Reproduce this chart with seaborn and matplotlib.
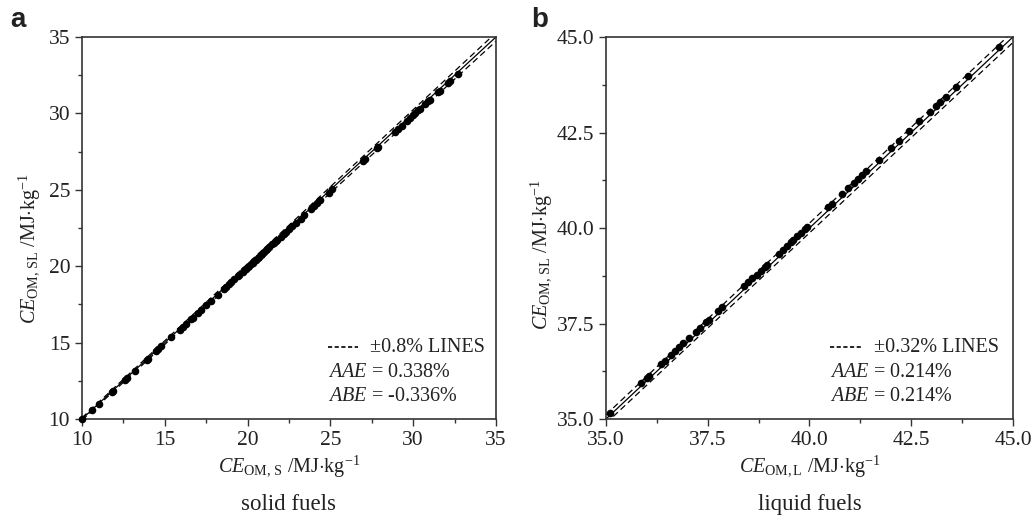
import matplotlib
matplotlib.use("Agg")
import matplotlib.pyplot as plt
import seaborn as sns
import numpy as np
import pandas as pd
from matplotlib.ticker import MultipleLocator, FormatStrFormatter

# ---------------- data ----------------
solid_x = [10.0, 10.6, 11.0, 11.8, 11.9, 12.6, 12.7, 13.2, 13.9, 14.0, 14.5, 14.6, 14.8,
           15.4, 15.9, 16.1, 16.3, 16.6, 16.7, 17.0, 17.2, 17.5, 17.8, 18.2, 18.6, 18.7,
           18.9, 19.0, 19.2, 19.4, 19.5, 19.7, 19.8, 19.9, 20.0, 20.1, 20.2, 20.3, 20.4,
           20.5, 20.6, 20.7, 20.8, 20.9, 21.0, 21.1, 21.2, 21.3, 21.5, 21.6, 21.7, 21.8,
           22.0, 22.2, 22.3, 22.5, 22.7, 22.9, 23.2, 23.4, 23.8, 24.0, 24.2, 24.4, 24.9,
           25.1, 27.0, 27.1, 27.8, 27.9, 28.9, 29.1, 29.3, 29.6, 29.8, 30.0, 30.1, 30.3,
           30.4, 30.7, 30.9, 31.0, 31.5, 31.6, 32.1, 32.2, 32.7]
solid_y = [9.97, 10.57, 10.96, 11.76, 11.86, 12.56, 12.66, 13.16, 13.85, 13.95, 14.45, 14.55, 14.75,
           15.35, 15.85, 16.05, 16.25, 16.54, 16.64, 16.94, 17.14, 17.44, 17.74, 18.14, 18.54, 18.64,
           18.84, 18.94, 19.14, 19.33, 19.43, 19.63, 19.73, 19.83, 19.93, 20.03, 20.13, 20.23, 20.33,
           20.43, 20.53, 20.63, 20.73, 20.83, 20.93, 21.03, 21.13, 21.23, 21.43, 21.53, 21.63, 21.73,
           21.93, 22.12, 22.22, 22.42, 22.62, 22.82, 23.12, 23.32, 23.72, 23.92, 24.12, 24.32, 24.82,
           25.02, 26.91, 27.01, 27.71, 27.81, 28.80, 29.00, 29.20, 29.50, 29.70, 29.90, 30.00, 30.20,
           30.30, 30.60, 30.80, 30.90, 31.39, 31.49, 31.99, 32.09, 32.59]

liquid_x = [35.10, 35.85, 36.00, 36.05, 36.35, 36.45, 36.60, 36.70, 36.80, 36.90, 37.05, 37.20,
            37.30, 37.45, 37.52, 37.75, 37.85, 38.40, 38.50, 38.60, 38.70, 38.80, 38.90, 38.95,
            39.25, 39.35, 39.45, 39.55, 39.60, 39.70, 39.80, 39.90, 39.95, 40.45, 40.55, 40.80,
            40.95, 41.10, 41.20, 41.30, 41.40, 41.70, 42.00, 42.20, 42.45, 42.70, 42.95, 43.10,
            43.20, 43.35, 43.60, 43.90, 44.65]
liquid_y = [35.17, 35.93, 36.08, 36.13, 36.43, 36.53, 36.68, 36.78, 36.88, 36.98, 37.13, 37.28,
            37.38, 37.53, 37.60, 37.83, 37.93, 38.48, 38.58, 38.68, 38.78, 38.88, 38.98, 39.03,
            39.33, 39.43, 39.53, 39.63, 39.68, 39.78, 39.88, 39.98, 40.03, 40.54, 40.64, 40.89,
            41.04, 41.19, 41.29, 41.39, 41.49, 41.79, 42.09, 42.29, 42.54, 42.79, 43.04, 43.19,
            43.29, 43.44, 43.69, 43.99, 44.75]

panels = [
    dict(letter="a", x=solid_x, y=solid_y, lim=(10, 35), major=5, minor=2.5, fmt="%d",
         band=0.008, band_label="\u00b10.8% LINES", aae="0.338%", abe="-0.336%",
         xlabel=r"$CE_{\mathrm{OM,\,S}}$ /MJ$\cdot$kg$^{-1}$",
         ylabel=r"$CE_{\mathrm{OM,\,SL}}$ /MJ$\cdot$kg$^{-1}$", caption="solid fuels",
         rect=[0.0792, 0.2094, 0.400, 0.7208], leg=(0.594, 0.667, 0.696),
         ylab_xy=(-0.096, 0.447)),
    dict(letter="b", x=liquid_x, y=liquid_y, lim=(35, 45), major=2.5, minor=1.25, fmt="%.1f",
         band=0.0032, band_label="\u00b10.32% LINES", aae="0.214%", abe="0.214%",
         xlabel=r"$CE_{\mathrm{OM,L}}$ /MJ$\cdot$kg$^{-1}$",
         ylabel=r"$CE_{\mathrm{OM,\,SL}}$ /MJ$\cdot$kg$^{-1}$", caption="liquid fuels",
         rect=[0.5855, 0.2094, 0.3932, 0.7208], leg=(0.550, 0.629, 0.658),
         ylab_xy=(-0.128, 0.432)),
]

sns.set_style("ticks")
plt.rcParams["font.family"] = ["Liberation Serif", "DejaVu Serif"]
plt.rcParams["mathtext.fontset"] = "custom"
plt.rcParams["mathtext.rm"] = "Liberation Serif"
plt.rcParams["mathtext.it"] = "Liberation Serif:italic"
plt.rcParams["mathtext.bf"] = "Liberation Serif:bold"

fig = plt.figure(figsize=(10.35, 5.3), dpi=100)

for p in panels:
    ax = fig.add_axes(p["rect"])
    df = pd.DataFrame({"x": p["x"], "y": p["y"]})
    lo, hi = p["lim"]
    ref = np.array([lo, hi])
    ax.plot(ref, ref, color="black", lw=0.9, zorder=2)
    ax.plot(ref, ref * (1 + p["band"]), color="black", lw=0.9, ls=(0, (5, 3)), zorder=2)
    ax.plot(ref, ref * (1 - p["band"]), color="black", lw=0.9, ls=(0, (5, 3)), zorder=2)
    sns.scatterplot(data=df, x="x", y="y", ax=ax, color="black", s=30,
                    edgecolor="black", linewidth=0, zorder=3, clip_on=False)
    ax.set_xlim(lo, hi)
    ax.set_ylim(lo, hi)
    ax.xaxis.set_major_locator(MultipleLocator(p["major"]))
    ax.yaxis.set_major_locator(MultipleLocator(p["major"]))
    ax.xaxis.set_minor_locator(MultipleLocator(p["minor"]))
    ax.yaxis.set_minor_locator(MultipleLocator(p["minor"]))
    ax.xaxis.set_major_formatter(FormatStrFormatter(p["fmt"]))
    ax.yaxis.set_major_formatter(FormatStrFormatter(p["fmt"]))
    ax.tick_params(which="major", direction="out", length=5, width=1.0,
                   labelsize=15.5, color="#333333", labelcolor="#222222", top=False, right=False)
    ax.tick_params(which="minor", direction="out", length=3, width=1.0,
                   color="#333333", top=False, right=False)
    for s in ax.spines.values():
        s.set_visible(True)
        s.set_linewidth(1.2)
        s.set_color("#333333")
    ax.set_xlabel(p["xlabel"], fontsize=14.5, labelpad=3, color="#222222")
    ax.set_ylabel(p["ylabel"], fontsize=14.5, color="#222222")
    ax.yaxis.set_label_coords(*p["ylab_xy"])
    ax.text(0.5, -0.225, p["caption"], transform=ax.transAxes, ha="center", va="center",
            fontsize=16.5, color="#222222")
    hx0, hx1, tx = p["leg"]
    ax.plot([hx0, hx1], [0.188, 0.188], transform=ax.transAxes, color="black", lw=1.2,
            ls=(0, (2.5, 1.5)))
    ax.text(tx, 0.188, p["band_label"], transform=ax.transAxes, ha="left", va="center",
            fontsize=14.5, color="#222222")
    ax.text(hx0, 0.122, r"$AAE$ = " + p["aae"], transform=ax.transAxes, ha="left",
            va="center", fontsize=14.5, color="#222222")
    ax.text(hx0, 0.058, r"$ABE$ = " + p["abe"], transform=ax.transAxes, ha="left",
            va="center", fontsize=14.5, color="#222222")

fig.text(0.010, 0.962, "a", fontsize=20, fontweight="bold", family="Liberation Sans",
         ha="left", va="center", color="#222222")
fig.text(0.513, 0.962, "b", fontsize=20, fontweight="bold", family="Liberation Sans",
         ha="left", va="center", color="#222222")

fig.savefig("out.png", dpi=100, facecolor="white")
